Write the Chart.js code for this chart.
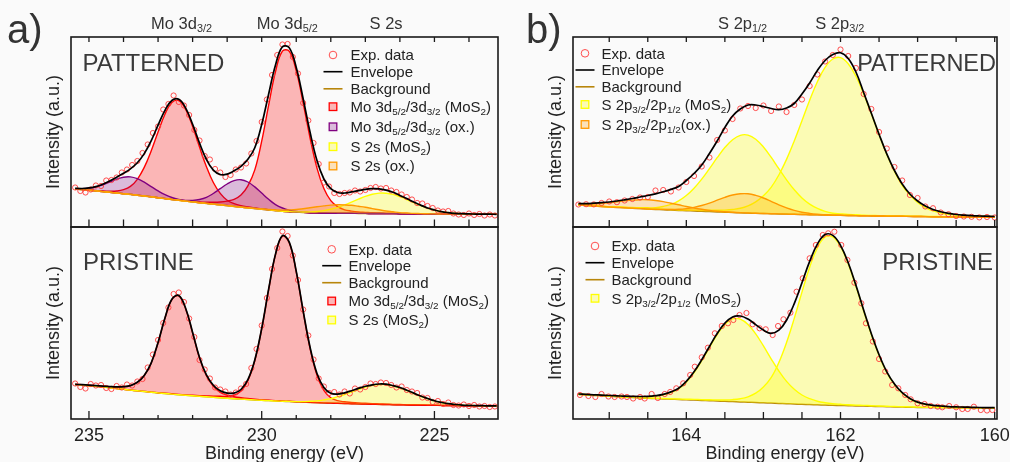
<!DOCTYPE html>
<html>
<head>
<meta charset="utf-8">
<title>XPS Mo 3d and S 2p spectra</title>
<script src="https://cdn.jsdelivr.net/npm/chart.js@4.4.1/dist/chart.umd.min.js"></script>
<style>
html,body{margin:0;padding:0;background:#fafafa;}
#fig{position:relative;width:1010px;height:462px;overflow:hidden;background:#fafafa;}
#fig canvas{position:absolute;left:0;top:0;width:1010px;height:462px;}
</style>
</head>
<body>
<div id="fig">
<canvas id="cATop" width="1010" height="462"></canvas>
<canvas id="cABot" width="1010" height="462"></canvas>
<canvas id="cBTop" width="1010" height="462"></canvas>
<canvas id="cBBot" width="1010" height="462"></canvas>
</div>
<script>
// ================= DATA (binding energy in eV, intensity in arbitrary units) =================
// ---- Panel a : Mo 3d / S 2s region ----
const aEnergy = [235.4,235.2,235.0,234.8,234.6,234.4,234.2,234.0,233.8,233.6,233.4,233.2,233.0,232.8,232.6,232.4,232.2,232.0,231.8,231.6,231.4,231.2,231.0,230.8,230.6,230.4,230.2,230.0,229.8,229.6,229.4,229.2,229.0,228.8,228.6,228.4,228.2,228.0,227.8,227.6,227.4,227.2,227.0,226.8,226.6,226.4,226.2,226.0,225.8,225.6,225.4,225.2,225.0,224.8,224.6,224.4,224.2,224.0,223.8,223.6,223.4,223.2];

// PATTERNED (top)
const aTopBackground = [38.0,37.4,36.8,36.1,35.4,34.7,34.0,33.3,32.6,31.8,31.0,30.2,29.3,28.4,27.5,26.7,25.9,25.1,24.3,23.6,22.9,22.2,21.4,20.6,19.9,19.2,18.5,17.8,17.1,16.4,15.8,15.3,14.9,14.6,14.3,14.1,14.0,13.9,13.8,13.7,13.7,13.6,13.6,13.5,13.5,13.4,13.4,13.3,13.3,13.2,13.2,13.1,13.1,13.0,13.0,12.9,12.9,12.9,12.8,12.8,12.8,12.7];
const aTopEnvelope = [38.6,38.5,39.1,40.4,42.8,46.0,49.8,53.8,58.1,64.2,73.4,86.2,101.8,116.7,126.5,127.7,118.9,102.7,83.9,67.5,56.9,52.5,52.9,56.2,60.7,67.8,79.3,102.5,132.8,162.1,180.2,179.1,159.5,128.3,94.7,66.4,48.0,38.3,34.5,34.0,35.1,36.3,37.7,38.3,38.1,36.8,34.7,31.6,28.4,24.9,21.9,19.0,17.0,15.4,14.4,13.7,13.3,13.1,12.9,12.8,12.8,12.7];
// component heights above the background
const aTopMo3d32MoS2 = [0.2,0.2,0.3,0.4,0.6,1.1,2.0,4.0,8.0,15.9,28.6,45.8,65.7,84.4,96.9,99.7,91.7,75.5,55.6,36.7,21.6,11.4,5.4,2.8,1.4,0.8,0.5,0.3,0.2,0.1,0,0,0,0,0,0,0,0,0,0,0,0,0,0,0,0,0,0,0,0,0,0,0,0,0,0,0,0,0,0,0,0];
const aTopMo3d52MoS2 = [0,0,0,0,0,0,0,0,0,0,0,0,0,0,0.1,0.2,0.3,0.5,0.8,1.2,1.8,2.8,4.5,7.0,12.0,22.0,38.6,68.1,104.5,138.9,160.1,160.4,141.2,109.4,74.7,44.8,24.5,12.5,6.5,3.5,2.2,1.4,1.0,0.7,0.5,0.4,0.3,0.2,0.2,0.1,0.1,0,0,0,0,0,0,0,0,0,0,0];
const aTopMo3d32Ox = [0.4,0.9,2.0,3.9,6.8,10.2,13.8,16.5,17.5,16.5,13.8,10.2,6.8,3.9,2.0,0.9,0.4,0.1,0,0,0,0,0,0,0,0,0,0,0,0,0,0,0,0,0,0,0,0,0,0,0,0,0,0,0,0,0,0,0,0,0,0,0,0,0,0,0,0,0,0,0,0];
const aTopMo3d52Ox = [0,0,0,0,0,0,0,0,0,0,0,0,0,0,0,0.2,0.6,1.5,3.2,6.0,10.6,16.1,21.6,25.8,27.4,25.8,21.6,16.1,10.6,6.0,3.2,1.5,0.6,0.2,0,0,0,0,0,0,0,0,0,0,0,0,0,0,0,0,0,0,0,0,0,0,0,0,0,0,0,0];
const aTopS2sMoS2 = [0,0,0,0,0,0,0,0,0,0,0,0,0,0,0,0,0,0,0,0,0,0,0,0,0,0,0,0,0,0,0,0.1,0.2,0.4,0.8,1.4,2.4,3.9,5.8,8.4,11.2,14.2,17.0,19.2,20.4,20.4,19.2,17.0,14.2,11.2,8.4,5.8,3.9,2.4,1.4,0.8,0.4,0.2,0.1,0,0,0];
const aTopS2sOx = [0,0,0,0,0,0,0,0,0,0,0,0,0,0,0,0,0,0,0,0,0,0,0,0,0,0,0.1,0.2,0.4,0.7,1.1,1.8,2.6,3.7,4.9,6.1,7.1,8.0,8.4,8.4,8.0,7.1,6.1,4.9,3.7,2.6,1.8,1.1,0.7,0.4,0.2,0.1,0,0,0,0,0,0,0,0,0,0];

const aExpEnergy = [235.40,235.25,235.10,234.95,234.80,234.65,234.50,234.35,234.20,234.05,233.90,233.75,233.60,233.45,233.30,233.15,233.00,232.85,232.70,232.55,232.40,232.25,232.10,231.95,231.80,231.65,231.50,231.35,231.20,231.05,230.90,230.75,230.60,230.45,230.30,230.15,230.00,229.85,229.70,229.55,229.40,229.25,229.10,228.95,228.80,228.65,228.50,228.35,228.20,228.05,227.90,227.75,227.60,227.45,227.30,227.15,227.00,226.85,226.70,226.55,226.40,226.25,226.10,225.95,225.80,225.65,225.50,225.35,225.20,225.05,224.90,224.75,224.60,224.45,224.30,224.15,224.00,223.85,223.70,223.55,223.40,223.25];
const aTopExp = [39.5,36.0,34.5,37.5,41.5,41.0,46.5,47.0,49.5,54.5,57.5,62.0,66.0,74.0,82.5,94.0,100.5,117.5,123.0,131.5,125.0,121.5,112.0,97.0,86.5,71.0,67.5,58.0,54.5,50.0,52.0,57.5,59.5,63.5,73.5,86.0,105.0,127.5,152.0,172.0,182.5,183.0,170.0,153.5,124.0,106.5,84.0,63.0,44.5,40.5,34.0,33.0,34.0,34.5,36.5,35.5,37.0,39.0,40.0,38.5,39.0,36.5,35.0,32.5,30.0,27.5,24.0,23.5,21.0,19.0,16.5,15.5,16.0,13.5,12.5,12.0,13.5,12.0,13.0,11.5,12.5,11.5];

// PRISTINE (bottom)
const aBotBackground = [34.4,33.9,33.3,32.7,32.0,31.3,30.5,29.7,28.9,28.2,27.5,26.8,26.1,25.5,24.9,24.3,23.7,23.2,22.7,22.2,21.7,21.2,20.7,20.3,19.9,19.5,19.1,18.7,18.4,18.0,17.7,17.4,17.1,16.8,16.6,16.3,16.1,15.9,15.7,15.5,15.3,15.1,14.9,14.8,14.6,14.5,14.3,14.2,14.1,14.0,13.9,13.8,13.7,13.6,13.5,13.4,13.3,13.3,13.2,13.2,13.1,13.1];
const aBotEnvelope = [34.7,34.3,33.8,33.3,32.8,32.4,32.1,32.3,33.4,36.7,43.6,55.9,76.5,101.1,119.7,123.5,110.5,86.6,61.6,44.1,33.8,28.2,25.9,25.9,29.5,39.3,59.0,90.6,129.6,164.9,183.3,176.6,147.6,108.2,71.7,45.5,31.6,25.7,24.9,26.2,28.3,30.6,32.7,34.2,35.0,34.8,33.4,31.5,28.8,25.9,23.0,20.5,18.2,16.6,15.3,14.5,13.9,13.6,13.4,13.3,13.1,13.1];
const aBotMo3d32MoS2 = [0.3,0.4,0.5,0.6,0.8,1.1,1.6,2.6,4.5,8.5,16.0,29.0,50.2,75.4,94.5,98.9,86.4,62.9,38.2,21.0,11.0,5.5,3.2,2.0,1.4,1.0,0.8,0.6,0.5,0.4,0.3,0.3,0.2,0.2,0.1,0.1,0,0,0,0,0,0,0,0,0,0,0,0,0,0,0,0,0,0,0,0,0,0,0,0,0,0];
const aBotMo3d52MoS2 = [0,0,0,0,0,0,0,0,0,0,0.1,0.1,0.2,0.2,0.3,0.3,0.4,0.5,0.7,0.9,1.1,1.5,2.0,3.6,8.2,18.8,39.1,71.3,110.7,146.5,165.2,158.7,130.0,90.6,53.9,27.3,12.5,5.3,2.6,1.7,1.3,1.0,0.8,0.6,0.5,0.4,0.3,0.3,0.2,0.2,0.1,0.1,0,0,0,0,0,0,0,0,0,0];
const aBotS2sMoS2 = [0,0,0,0,0,0,0,0,0,0,0,0,0,0,0,0,0,0,0,0,0,0,0,0,0,0,0,0,0,0,0.1,0.2,0.3,0.6,1.1,1.8,3.0,4.5,6.6,9.0,11.7,14.5,17.0,18.8,19.9,19.9,18.8,17.0,14.5,11.7,9.0,6.6,4.5,3.0,1.8,1.1,0.6,0.3,0.2,0.1,0,0];
const aBotExp = [35.5,32.0,30.5,35.0,33.5,34.0,31.0,30.0,33.0,31.5,34.5,33.5,37.5,40.0,51.5,64.5,79.0,96.0,111.5,125.0,126.5,117.0,100.5,82.0,59.0,49.5,40.5,31.5,29.5,27.5,24.5,26.5,30.5,35.0,51.0,70.0,93.5,121.0,150.0,171.0,187.5,183.0,163.5,139.0,109.5,83.5,59.5,40.5,32.5,26.0,27.0,24.5,27.5,25.5,30.5,29.5,32.0,35.5,35.0,36.5,36.0,34.0,31.5,32.5,29.0,27.5,26.0,21.5,21.0,17.0,18.0,15.0,16.5,14.0,13.5,14.5,13.0,14.0,12.5,13.0,12.0,12.5];

// ---- Panel b : S 2p region ----
const bEnergy = [165.4,165.3,165.2,165.1,165.0,164.9,164.8,164.7,164.6,164.5,164.4,164.3,164.2,164.1,164.0,163.9,163.8,163.7,163.6,163.5,163.4,163.3,163.2,163.1,163.0,162.9,162.8,162.7,162.6,162.5,162.4,162.3,162.2,162.1,162.0,161.9,161.8,161.7,161.6,161.5,161.4,161.3,161.2,161.1,161.0,160.9,160.8,160.7,160.6,160.5,160.4,160.3,160.2,160.1,160.0];

// PATTERNED (top)
const bTopBackground = [22.0,21.5,21.0,20.5,20.0,19.6,19.2,18.8,18.4,18.0,17.6,17.3,16.9,16.6,16.3,16.0,15.7,15.4,15.1,14.8,14.5,14.2,14.0,13.7,13.5,13.3,13.1,12.9,12.7,12.5,12.3,12.2,12.0,11.8,11.7,11.5,11.4,11.2,11.1,11.0,10.9,10.8,10.7,10.6,10.5,10.4,10.3,10.2,10.1,10.1,10.0,9.9,9.9,9.8,9.7];
const bTopEnvelope = [23.3,23.4,23.8,24.3,25.0,26.0,27.2,28.5,30.0,31.5,33.2,35.2,37.6,40.6,46.5,53.5,62.0,73.5,86.0,99.5,111.0,118.0,122.0,122.0,120.5,118.5,117.3,119.0,123.5,133.0,144.0,156.5,166.5,172.5,174.3,168.5,155.0,134.5,113.8,92.8,73.1,56.5,43.0,33.0,26.0,21.0,17.5,15.2,13.6,12.5,11.8,11.3,11.0,10.8,10.5];
const bTopS2p32MoS2 = [0.2,0.2,0.2,0.2,0.2,0.3,0.3,0.3,0.4,0.4,0.5,0.5,0.6,0.7,0.8,0.9,1.1,1.3,1.6,2.1,3.0,4.5,7.2,11.5,17.8,26.4,38.9,54.7,73.3,93.7,114.4,133.0,147.6,156.2,157.7,151.8,139.4,122.1,102.1,81.4,61.8,44.9,31.0,21.3,14.0,9.0,5.8,3.8,2.6,1.9,1.4,1.1,0.9,0.8,0.7];
const bTopS2p12MoS2 = [0.3,0.3,0.3,0.4,0.4,0.5,0.6,0.7,0.9,1.2,1.7,3.2,5.7,9.6,15.2,22.8,32.2,43.0,54.2,64.7,72.8,77.5,77.9,74.1,66.5,56.5,45.2,34.3,24.5,16.6,10.6,6.4,3.6,2.0,1.4,1.0,0.8,0.6,0.5,0.4,0.4,0.3,0.3,0.3,0.2,0.2,0.2,0.2,0.2,0.2,0.2,0.2,0.2,0.2,0.1];
const bTopS2p32Ox = [0,0,0,0,0,0,0,0,0,0,0.1,0.3,0.6,1.1,2.1,3.6,5.8,8.5,11.7,14.9,17.5,19.0,19.2,17.9,15.5,12.4,9.1,6.3,4.0,2.3,1.3,0.6,0.3,0.1,0,0,0,0,0,0,0,0,0,0,0,0,0,0,0,0,0,0,0,0,0];
const bTopS2p12Ox = [0.7,1.2,2.0,3.0,4.2,5.6,6.9,8.1,8.9,9.2,8.9,8.1,6.9,5.6,4.2,3.0,2.0,1.2,0.7,0.4,0.2,0.1,0,0,0,0,0,0,0,0,0,0,0,0,0,0,0,0,0,0,0,0,0,0,0,0,0,0,0,0,0,0,0,0,0];
const bTopExp = [22.5,22.8,22.6,24.0,25.5,24.8,26.5,28.0,29.5,30.0,36.5,37.0,35.5,39.5,45.0,51.0,60.5,69.5,87.0,96.5,108.0,118.5,121.0,119.0,121.5,116.0,120.5,115.0,122.0,127.5,141.0,152.5,165.5,172.0,177.5,171.0,159.0,133.0,118.0,95.0,78.5,60.0,46.5,32.0,29.0,20.5,18.8,14.5,12.8,11.0,10.5,10.2,9.6,10.0,9.5];

// PRISTINE (bottom)
const bBotBackground = [24.5,24.1,23.6,23.2,22.7,22.3,21.8,21.4,21.0,20.7,20.4,20.1,19.8,19.5,19.2,18.9,18.6,18.3,18.0,17.7,17.4,17.1,16.8,16.5,16.2,15.9,15.6,15.3,15.0,14.7,14.5,14.2,14.0,13.7,13.5,13.3,13.1,12.9,12.7,12.5,12.3,12.1,11.9,11.7,11.6,11.5,11.4,11.3,11.2,11.1,11.0,10.9,10.8,10.8,10.7];
const bBotEnvelope = [25.0,24.6,24.2,23.9,23.5,23.2,22.8,22.6,22.5,22.6,23.3,24.6,27.1,30.7,37.6,47.2,59.2,72.5,85.5,95.9,102.1,103.0,99.9,94.4,88.9,85.6,88.8,98.8,115.4,136.2,157.6,174.9,184.4,183.6,173.7,156.2,133.7,109.0,85.2,64.2,47.2,35.0,26.3,20.6,16.9,14.8,13.7,13.0,12.4,12.1,11.9,11.7,11.5,11.4,11.3];
const bBotS2p32MoS2 = [0.1,0.1,0.1,0.2,0.2,0.2,0.2,0.3,0.3,0.3,0.4,0.4,0.5,0.5,0.6,0.7,0.8,0.9,1.1,1.4,2.0,3.2,5.4,9.3,15.8,25.4,40.8,61.2,85.6,112.2,137.3,157.1,168.1,168.3,159.0,142.0,119.8,95.4,71.9,51.2,34.4,22.5,14.0,8.5,5.0,3.0,2.0,1.4,1.0,0.8,0.7,0.6,0.5,0.4,0.4];
const bBotS2p12MoS2 = [0.4,0.4,0.5,0.5,0.6,0.7,0.8,0.9,1.2,1.6,2.5,4.1,6.8,10.7,17.8,27.6,39.8,53.3,66.4,76.8,82.7,82.7,77.7,68.6,56.9,44.3,32.4,22.3,14.8,9.3,5.8,3.6,2.3,1.6,1.2,0.9,0.8,0.7,0.6,0.5,0.5,0.4,0.4,0.4,0.3,0.3,0.3,0.3,0.2,0.2,0.2,0.2,0.2,0.2,0.2];
const bBotExpEnergy = [165.38,165.27,165.18,165.10,165.01,164.93,164.84,164.77,164.69,164.60,164.54,164.45,164.37,164.28,164.21,164.13,164.04,163.95,163.89,163.80,163.72,163.63,163.54,163.46,163.39,163.31,163.22,163.14,163.05,162.97,162.88,162.81,162.74,162.65,162.57,162.49,162.40,162.32,162.23,162.16,162.08,161.99,161.91,161.82,161.73,161.67,161.58,161.50,161.42,161.33,161.25,161.16,161.09,161.00,160.91,160.83,160.74,160.68,160.59,160.50,160.42,160.35,160.27,160.18,160.10,160.03];
const bBotExp = [24.0,23.0,22.0,25.0,22.5,22.0,22.5,22.0,20.5,22.0,20.5,25.0,21.0,25.0,27.0,30.7,35.7,44.0,52.3,61.7,71.3,85.7,93.0,95.7,99.0,104.0,106.0,94.7,90.7,89.7,84.0,93.0,99.7,106.3,127.3,140.7,160.7,174.0,184.0,185.7,187.3,174.0,159.0,136.3,115.7,95.7,77.5,60.0,47.5,34.0,30.7,24.0,19.7,15.7,15.0,13.0,12.3,11.7,13.0,11.7,10.0,10.0,12.3,9.0,8.5,9.0];

// ---- axes ----
const aTickValues = [235,234,233,232,231,230,229,228,227,226,225,224];
const aTickLabels = [235,230,225];
const bTickValues = [165,164.5,164,163.5,163,162.5,162,161.5,161,160.5,160];
const bTickLabels = [164,162,160];

// ---- texts ----
const aPeakLabels = ['Mo 3d_{3/2}','Mo 3d_{5/2}','S 2s'];
const aPeakLabelEnergy = [232.32,229.26,226.40];
const bPeakLabels = ['S 2p_{1/2}','S 2p_{3/2}'];
const bPeakLabelEnergy = [163.27,162.01];
const aTopLegendLabels = ['Exp. data','Envelope','Background','Mo 3d_{5/2}/3d_{3/2} (MoS_{2})','Mo 3d_{5/2}/3d_{3/2} (ox.)','S 2s (MoS_{2})','S 2s (ox.)'];
const aBotLegendLabels = ['Exp. data','Envelope','Background','Mo 3d_{5/2}/3d_{3/2} (MoS_{2})','S 2s (MoS_{2})'];
const bTopLegendLabels = ['Exp. data','Envelope','Background','S 2p_{3/2}/2p_{1/2} (MoS_{2})','S 2p_{3/2}/2p_{1/2}(ox.)'];
const bBotLegendLabels = ['Exp. data','Envelope','Background','S 2p_{3/2}/2p_{1/2} (MoS_{2})'];

// ================= STYLE =================
const FONT = '"Liberation Sans", Arial, Helvetica, sans-serif';
const C = {
  exp: 'rgba(255,60,60,0.9)',
  env: '#000000',
  bg: '#b8860b',
  red: '#ff0000', redF: 'rgba(255,0,0,0.27)',
  pur: '#800080', purF: 'rgba(128,0,128,0.25)',
  yel: '#ffff00', yelF: 'rgba(255,255,0,0.28)',
  ora: '#ff9900', oraF: 'rgba(255,153,0,0.26)'
};

function pts(E, Y) { return E.map((e, i) => ({ x: e, y: Y[i] })); }
function plain(t) { return t.replace(/_\{([^}]*)\}/g, '$1'); }

function segs(text) {
  const out = []; const re = /_\{([^}]*)\}/g; let last = 0, m;
  while ((m = re.exec(text))) {
    if (m.index > last) out.push([text.slice(last, m.index), false]);
    out.push([m[1], true]); last = re.lastIndex;
  }
  if (last < text.length) out.push([text.slice(last), false]);
  return out;
}
function drawRich(ctx, text, x, y, size, align) {
  const s = segs(text); const sub = size * 0.66;
  ctx.textAlign = 'left'; ctx.textBaseline = 'alphabetic';
  let w = 0;
  s.forEach(([t, isSub]) => { ctx.font = (isSub ? sub : size) + 'px ' + FONT; w += ctx.measureText(t).width; });
  let cx = align === 'center' ? x - w / 2 : align === 'right' ? x - w : x;
  s.forEach(([t, isSub]) => {
    ctx.font = (isSub ? sub : size) + 'px ' + FONT;
    ctx.fillText(t, cx, y + (isSub ? size * 0.2 : 0));
    cx += ctx.measureText(t).width;
  });
}

const decor = {
  id: 'decor',
  afterDatasetsDraw(chart, args, o) {
    const ctx = chart.ctx, a = chart.chartArea, xs = chart.scales.x;
    ctx.save();
    ctx.strokeStyle = '#1a1a1a';
    ctx.lineWidth = 1.3;
    o.ticks.forEach(v => {
      const px = xs.getPixelForValue(v);
      const len = o.majors.includes(v) ? o.botMajor : o.botMinor;
      ctx.beginPath();
      ctx.moveTo(px, a.bottom); ctx.lineTo(px, a.bottom - len);
      if (o.topLen) { ctx.moveTo(px, a.top); ctx.lineTo(px, a.top + o.topLen); }
      ctx.stroke();
    });
    ctx.lineWidth = 1.6;
    ctx.strokeRect(a.left, a.top, a.right - a.left, a.bottom - a.top);

    // y title
    ctx.fillStyle = '#222';
    ctx.save();
    ctx.translate(a.left - 17, (a.top + a.bottom) / 2);
    ctx.rotate(-Math.PI / 2);
    ctx.font = '18px ' + FONT; ctx.textAlign = 'center'; ctx.textBaseline = 'middle';
    ctx.fillText('Intensity (a.u.)', 0, 0);
    ctx.restore();

    // x tick labels + title
    if (o.tickLabels) {
      ctx.font = '18px ' + FONT; ctx.textAlign = 'center'; ctx.textBaseline = 'alphabetic';
      o.tickLabels.forEach(v => ctx.fillText(String(v), xs.getPixelForValue(v), a.bottom + 22));
      ctx.fillText('Binding energy (eV)', (a.left + a.right) / 2, a.bottom + 40);
    }
    // panel letter
    if (o.letter) {
      ctx.fillStyle = '#333'; ctx.font = '40px ' + FONT; ctx.textAlign = 'left'; ctx.textBaseline = 'alphabetic';
      ctx.fillText(o.letter, o.letterX, o.letterY);
    }
    // peak labels on top
    if (o.peakLabels) {
      ctx.fillStyle = '#333';
      o.peakLabels.forEach((t, i) => drawRich(ctx, t, xs.getPixelForValue(o.peakEnergy[i]), a.top - 8, 16.5, 'center'));
    }
    // sample name
    ctx.fillStyle = '#3a3a3a';
    drawRich(ctx, o.sample.text, o.sample.x, o.sample.y, o.sample.size, o.sample.align);

    // legend
    const L = o.legend;
    L.items.forEach((it, i) => {
      const y = L.rows[i], x = L.x;
      ctx.save();
      if (it.k === 'circle') {
        ctx.strokeStyle = it.c; ctx.lineWidth = 1;
        ctx.beginPath(); ctx.arc(x, y, 3.8, 0, Math.PI * 2); ctx.stroke();
      } else if (it.k === 'line') {
        ctx.strokeStyle = it.c; ctx.lineWidth = 1.6;
        ctx.beginPath(); ctx.moveTo(x - 9.5, y); ctx.lineTo(x + 9.5, y); ctx.stroke();
      } else {
        ctx.fillStyle = '#fafafa'; ctx.fillRect(x - 3.8, y - 3.8, 7.6, 7.6);
        ctx.fillStyle = it.f; ctx.fillRect(x - 3.8, y - 3.8, 7.6, 7.6);
        ctx.strokeStyle = it.c; ctx.lineWidth = 1.3; ctx.strokeRect(x - 3.8, y - 3.8, 7.6, 7.6);
      }
      ctx.restore();
      ctx.fillStyle = '#222';
      drawRich(ctx, L.labels[i], L.tx, y + 5.3, 15, 'left');
    });
    ctx.restore();
  }
};

function makePanel(id, p) {
  const ds = [];
  ds.push({ label: 'Envelope', data: pts(p.E, p.env), borderColor: C.env, borderWidth: 1.7, pointRadius: 0, tension: 0.4, fill: false, borderJoinStyle: 'round' });
  ds.push({ label: 'Exp. data', data: pts(p.expE, p.exp), showLine: false, pointRadius: 2.6, pointBorderWidth: 1,
            pointBorderColor: C.exp, pointBackgroundColor: 'rgba(0,0,0,0)', borderColor: C.exp, backgroundColor: 'rgba(0,0,0,0)', fill: false });
  const bgIndex = 2 + p.comps.length;
  p.comps.forEach(c => ds.push({
    label: c.label, data: pts(p.E, p.bg.map((b, i) => b + c.v[i])),
    borderColor: c.line, backgroundColor: c.fill, borderWidth: 1.4, pointRadius: 0, tension: 0.4, fill: bgIndex
  }));
  ds.push({ label: 'Background', data: pts(p.E, p.bg), borderColor: C.bg, borderWidth: 1.5, pointRadius: 0, tension: 0.4, fill: false });

  return new Chart(document.getElementById(id), {
    type: 'line',
    data: { datasets: ds },
    options: {
      responsive: false, animation: false, devicePixelRatio: 1,
      layout: { padding: p.pad },
      scales: {
        x: { type: 'linear', reverse: true, min: p.xmin, max: p.xmax, display: false },
        y: { type: 'linear', min: 0, max: p.ymax, display: false }
      },
      plugins: { legend: { display: false }, tooltip: { enabled: false }, decor: p.decor }
    },
    plugins: [decor]
  });
}

const W = 1010, H = 462;
const A = { left: 71, right: 498 }, B = { left: 573, right: 997 };
const TOP = { top: 37, bottom: 227 }, BOT = { top: 227, bottom: 419 };
function pad(col, row) { return { left: col.left, right: W - col.right, top: row.top, bottom: H - row.bottom }; }

const legItemsBase = [{ k: 'circle', c: C.exp }, { k: 'line', c: C.env }, { k: 'line', c: C.bg }];

// ---- a) PATTERNED ----
makePanel('cATop', {
  E: aEnergy, env: aTopEnvelope, bg: aTopBackground, expE: aExpEnergy, exp: aTopExp,
  comps: [
    { label: 'S 2s (ox.)', v: aTopS2sOx, line: C.ora, fill: C.oraF },
    { label: 'S 2s (MoS2)', v: aTopS2sMoS2, line: C.yel, fill: C.yelF },
    { label: 'Mo 3d3/2 (ox.)', v: aTopMo3d32Ox, line: C.pur, fill: C.purF },
    { label: 'Mo 3d5/2 (ox.)', v: aTopMo3d52Ox, line: C.pur, fill: C.purF },
    { label: 'Mo 3d3/2 (MoS2)', v: aTopMo3d32MoS2, line: C.red, fill: C.redF },
    { label: 'Mo 3d5/2 (MoS2)', v: aTopMo3d52MoS2, line: C.red, fill: C.redF }
  ],
  pad: pad(A, TOP), xmin: 223.16, xmax: 235.52, ymax: 190,
  decor: {
    ticks: aTickValues, majors: aTickLabels, topLen: 5, botMajor: 7.5, botMinor: 7.5,
    letter: 'a)', letterX: 7, letterY: 43,
    peakLabels: aPeakLabels, peakEnergy: aPeakLabelEnergy,
    sample: { text: 'PATTERNED', x: 82.5, y: 71, size: 24, align: 'left' },
    legend: { x: 333, tx: 350.5, rows: [55, 71.7, 88.8, 106.7, 126.8, 146.7, 166],
      labels: aTopLegendLabels,
      items: legItemsBase.concat([{ k: 'box', c: C.red, f: C.redF }, { k: 'box', c: C.pur, f: C.purF }, { k: 'box', c: C.yel, f: C.yelF }, { k: 'box', c: C.ora, f: C.oraF }]) }
  }
});

// ---- a) PRISTINE ----
makePanel('cABot', {
  E: aEnergy, env: aBotEnvelope, bg: aBotBackground, expE: aExpEnergy, exp: aBotExp,
  comps: [
    { label: 'S 2s (MoS2)', v: aBotS2sMoS2, line: C.yel, fill: C.yelF },
    { label: 'Mo 3d3/2 (MoS2)', v: aBotMo3d32MoS2, line: C.red, fill: C.redF },
    { label: 'Mo 3d5/2 (MoS2)', v: aBotMo3d52MoS2, line: C.red, fill: C.redF }
  ],
  pad: pad(A, BOT), xmin: 223.16, xmax: 235.52, ymax: 192,
  decor: {
    ticks: aTickValues, majors: aTickLabels, topLen: 0, botMajor: 8, botMinor: 4,
    tickLabels: aTickLabels,
    sample: { text: 'PRISTINE', x: 83, y: 270, size: 24, align: 'left' },
    legend: { x: 331.7, tx: 348.5, rows: [249.3, 265.7, 282.7, 301, 320],
      labels: aBotLegendLabels,
      items: legItemsBase.concat([{ k: 'box', c: C.red, f: C.redF }, { k: 'box', c: C.yel, f: C.yelF }]) }
  }
});

// ---- b) PATTERNED ----
makePanel('cBTop', {
  E: bEnergy, env: bTopEnvelope, bg: bTopBackground, expE: bEnergy, exp: bTopExp,
  comps: [
    { label: 'S 2p3/2 (ox.)', v: bTopS2p32Ox, line: C.ora, fill: C.oraF },
    { label: 'S 2p1/2 (ox.)', v: bTopS2p12Ox, line: C.ora, fill: C.oraF },
    { label: 'S 2p1/2 (MoS2)', v: bTopS2p12MoS2, line: C.yel, fill: C.yelF },
    { label: 'S 2p3/2 (MoS2)', v: bTopS2p32MoS2, line: C.yel, fill: C.yelF }
  ],
  pad: pad(B, TOP), xmin: 159.97, xmax: 165.47, ymax: 190,
  decor: {
    ticks: bTickValues, majors: bTickLabels, topLen: 5, botMajor: 7, botMinor: 7,
    letter: 'b)', letterX: 526, letterY: 43,
    peakLabels: bPeakLabels, peakEnergy: bPeakLabelEnergy,
    sample: { text: 'PATTERNED', x: 996, y: 70.5, size: 23.5, align: 'right' },
    legend: { x: 585, tx: 601.5, rows: [53.3, 70, 86.8, 104.5, 124.5],
      labels: bTopLegendLabels,
      items: legItemsBase.concat([{ k: 'box', c: C.yel, f: C.yelF }, { k: 'box', c: C.ora, f: C.oraF }]) }
  }
});

// ---- b) PRISTINE ----
makePanel('cBBot', {
  E: bEnergy, env: bBotEnvelope, bg: bBotBackground, expE: bBotExpEnergy, exp: bBotExp,
  comps: [
    { label: 'S 2p1/2 (MoS2)', v: bBotS2p12MoS2, line: C.yel, fill: C.yelF },
    { label: 'S 2p3/2 (MoS2)', v: bBotS2p32MoS2, line: C.yel, fill: C.yelF }
  ],
  pad: pad(B, BOT), xmin: 159.97, xmax: 165.47, ymax: 192,
  decor: {
    ticks: bTickValues, majors: bTickLabels, topLen: 0, botMajor: 7, botMinor: 7,
    tickLabels: bTickLabels,
    sample: { text: 'PRISTINE', x: 993, y: 270, size: 24, align: 'right' },
    legend: { x: 595, tx: 611.5, rows: [246, 262.7, 279.7, 298.3],
      labels: bBotLegendLabels,
      items: legItemsBase.concat([{ k: 'box', c: C.yel, f: C.yelF }]) }
  }
});
</script>
</body>
</html>
